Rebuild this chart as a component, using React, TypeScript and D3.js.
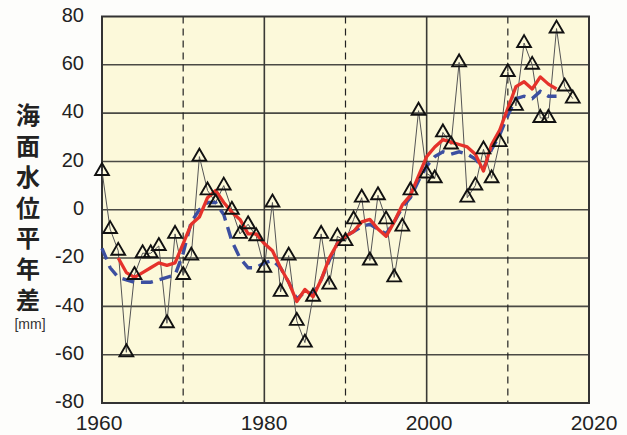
import React from "react";
import * as d3 from "d3";

const years = d3.range(1960, 2019);
const annualValues = [
  16, -8, -17, -59, -27, -18, -18, -15, -47, -10,
  -27, -19, 22, 8, 3, 10, 0, -10, -6, -11,
  -24, 3, -34, -19, -46, -55, -36, -10, -31, -11,
  -13, -4, 5, -21, 6, -4, -28, -7, 8, 41,
  15, 13, 32, 27, 61, 5, 10, 25, 13, 28,
  57, 43, 69, 60, 38, 38, 75, 51, 46,
];

const redYears = d3.range(1962, 2017);
const redValues = [
  -20, -26, -28, -26, -24, -22, -23, -22, -14, -6,
  -3, 5, 8, 3, -1, -4, -10, -10, -14, -17,
  -24, -30, -38, -33, -36, -29, -20, -14, -11, -9,
  -5, -4, -8, -11, -5, 2, 6, 14, 22, 26,
  29, 28, 27, 26, 23, 16, 27, 33, 42, 51,
  53, 50, 55, 52, 50,
];

const blueYears = d3.range(1960, 2017);
const blueValues = [
  -16, -24, -28, -29, -30, -30, -30, -29, -28, -27,
  -18, -5, 0, 3, 3, -2, -13, -20, -24, -24,
  -22, -21, -24, -30, -37, -34, -35, -29, -21, -14,
  -11, -9, -7, -6, -8, -10, -5, 1, 5, 12,
  18, 22, 24, 23, 24, 23, 21, 17, 25, 31,
  39, 46, 47, 46, 49, 47, 47,
];

const yTicks = [80, 60, 40, 20, 0, -20, -40, -60, -80];
const xTicks = [1960, 1980, 2000, 2020];
const solidVerticals = [1980, 2000];
const dashedVerticals = [1970, 1990, 2010];
const yTitle = "海面水位平年差";
const unitLabel = "[mm]";

export default function App() {
  const x = d3.scaleLinear().domain([1960, 2020]).range([102, 589]);
  const y = d3.scaleLinear().domain([-80, 80]).range([403, 16.5]);
  const xLabel = d3.scaleLinear().domain([1960, 2020]).range([99, 594]);

  const pts = years.map((yr, i) => [yr, annualValues[i]] as [number, number]);
  const line = d3
    .line<[number, number]>()
    .x((d) => x(d[0]))
    .y((d) => y(d[1]));
  const redPts = redYears.map((yr, i) => [yr, redValues[i]] as [number, number]);
  const bluePts = blueYears.map((yr, i) => [yr, blueValues[i]] as [number, number]);
  const tri = d3.symbol().type(d3.symbolTriangle).size(82)() as string;

  const [x0, x1] = x.range();
  const [yb, yt] = y.range();
  const bg = "#fcf9da";

  return (
    <svg
      width={627}
      height={435}
      style={{ position: "absolute", left: 0, top: 0, background: "#fdfdfb" }}
      fontFamily="'Liberation Sans', Arial, sans-serif"
    >
      <rect x={x0} y={yt} width={x1 - x0} height={yb - yt} fill={bg} />
      {yTicks
        .filter((t) => t !== 80 && t !== -80)
        .map((t) => (
          <line key={"h" + t} x1={x0} x2={x1} y1={y(t)} y2={y(t)} stroke="#4a4a44" strokeWidth={1.6} />
        ))}
      {solidVerticals.map((v) => (
        <line key={"v" + v} x1={x(v)} x2={x(v)} y1={yt} y2={yb} stroke="#3a3a36" strokeWidth={1.6} />
      ))}
      {dashedVerticals.map((v) => (
        <line
          key={"d" + v}
          x1={x(v)}
          x2={x(v)}
          y1={yt}
          y2={yb}
          stroke="#222"
          strokeWidth={1.2}
          strokeDasharray="7,5"
        />
      ))}
      <rect x={x0} y={yt} width={x1 - x0} height={yb - yt} fill="none" stroke="#333" strokeWidth={2} />

      <path d={line(pts) as string} fill="none" stroke="#555" strokeWidth={1} />
      <path
        d={line(bluePts) as string}
        fill="none"
        stroke="#3c4fa0"
        strokeWidth={3.4}
        strokeDasharray="12,7"
      />
      <path d={line(redPts) as string} fill="none" stroke="#e5322b" strokeWidth={3.3} strokeLinejoin="round" />
      {pts.map((d) => (
        <path
          key={"t" + d[0]}
          d={tri}
          transform={`translate(${x(d[0])},${y(d[1])})`}
          fill="none"
          stroke="#111"
          strokeWidth={1.9}
          strokeLinejoin="miter"
        />
      ))}

      {yTicks.map((t) => (
        <text key={"yl" + t} x={84} y={y(t)} textAnchor="end" dominantBaseline="middle" fontSize={20} fill="#222">
          {t}
        </text>
      ))}
      {xTicks.map((t) => (
        <text key={"xl" + t} x={xLabel(t)} y={430} textAnchor="middle" fontSize={21} fill="#222">
          {t}
        </text>
      ))}
      <text
        x={28}
        y={103}
        style={{ writingMode: "vertical-rl" }}
        letterSpacing={6.8}
        fontSize={24}
        fontWeight={700}
        fontFamily="'Noto Sans CJK JP', sans-serif"
        fill="#222"
      >
        {yTitle}
      </text>
      <text x={30} y={324} textAnchor="middle" dominantBaseline="central" fontSize={14} fill="#333">
        {unitLabel}
      </text>
    </svg>
  );
}
